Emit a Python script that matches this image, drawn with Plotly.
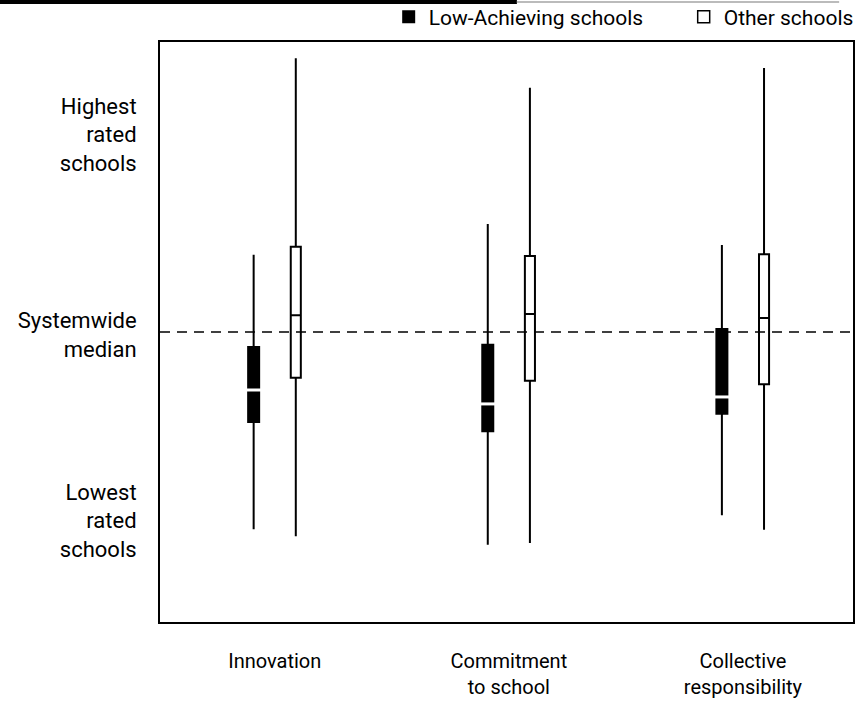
import plotly.graph_objects as go

# Datos (escala 0-100; 50 = mediana del sistema)
categorias = ["Innovation", "Commitment<br>to school", "Collective<br>responsibility"]
posiciones = [0, 1, 2]

bajo_max = [63.3, 68.6, 65.0]
bajo_q3 = [47.4, 47.8, 50.5]
bajo_med = [40.0, 37.6, 38.8]
bajo_q1 = [34.5, 32.9, 35.9]
bajo_min = [16.0, 13.3, 18.4]

otros_max = [97.2, 92.1, 95.5]
otros_q3 = [64.7, 63.1, 63.4]
otros_med = [52.9, 53.1, 52.4]
otros_q1 = [42.1, 41.6, 41.0]
otros_min = [14.8, 13.6, 15.9]

mediana_sistema = 50
etiquetas_y = ["Highest<br>rated<br>schools", "Systemwide<br>median", "Lowest<br>rated<br>schools"]
valores_y = [84, 49.5, 17.5]

fuente = "Roboto, Arial, sans-serif"
desp = 0.09
x_bajo = [p - desp for p in posiciones]
x_otros = [p + desp for p in posiciones]

fig = go.Figure()

fig.add_trace(go.Box(
    x=x_bajo, q1=bajo_q1, median=bajo_med, q3=bajo_q3,
    lowerfence=bajo_min, upperfence=bajo_max,
    width=0.047, whiskerwidth=0, fillcolor="black",
    line=dict(color="black", width=2), showlegend=False, hoverinfo="skip"
))
fig.add_trace(go.Box(
    x=x_otros, q1=otros_q1, median=otros_med, q3=otros_q3,
    lowerfence=otros_min, upperfence=otros_max,
    width=0.043, whiskerwidth=0, fillcolor="white",
    line=dict(color="black", width=2), showlegend=False, hoverinfo="skip"
))
# mediana blanca sobre las cajas negras
fig.add_trace(go.Scatter(
    x=x_bajo, y=bajo_med, mode="markers",
    marker=dict(symbol="line-ew", size=14, line=dict(color="white", width=3)),
    showlegend=False, hoverinfo="skip"
))

# leyenda
fig.add_trace(go.Scatter(
    x=[None], y=[None], mode="markers", name="Low-Achieving schools",
    marker=dict(symbol="square", size=13, color="black")
))
fig.add_trace(go.Scatter(
    x=[None], y=[None], mode="markers", name="Other schools",
    marker=dict(symbol="square-open", size=12, color="black", line=dict(width=1.5))
))

fig.add_hline(y=mediana_sistema, line=dict(color="black", width=1.5, dash="10px,7px"))

# raya superior del escaneo
fig.add_shape(type="line", xref="paper", yref="paper", x0=-0.231, x1=0.515, y0=1.069, y1=1.069,
              line=dict(color="black", width=4))
fig.add_shape(type="line", xref="paper", yref="paper", x0=0.515, x1=0.98, y0=1.069, y1=1.069,
              line=dict(color="#bbbbbb", width=2))

fig.update_layout(
    width=856, height=709,
    margin=dict(l=160, r=3, t=42, b=87, autoexpand=False),
    plot_bgcolor="white", paper_bgcolor="white",
    font=dict(family=fuente, size=20, color="black"),
    legend=dict(orientation="h", x=0.33, xanchor="left", y=1.043, yanchor="middle",
                font=dict(size=21), itemwidth=30, entrywidth=250,
                bgcolor="rgba(0,0,0,0)"),
)
fig.update_xaxes(
    range=[-0.49, 2.47], tickvals=posiciones, ticktext=categorias,
    showgrid=False, zeroline=False, showline=True, mirror=True,
    linecolor="black", linewidth=2, ticks="", ticklabelstandoff=20
)
fig.update_yaxes(
    range=[0, 100], tickvals=valores_y, ticktext=etiquetas_y,
    showgrid=False, zeroline=False, showline=True, mirror=True,
    linecolor="black", linewidth=2, ticks="", ticklabelstandoff=17,
    tickfont=dict(size=22)
)

fig.write_html("out.html", config={"displayModeBar": False},
               post_script="document.body.style.margin='0';")
